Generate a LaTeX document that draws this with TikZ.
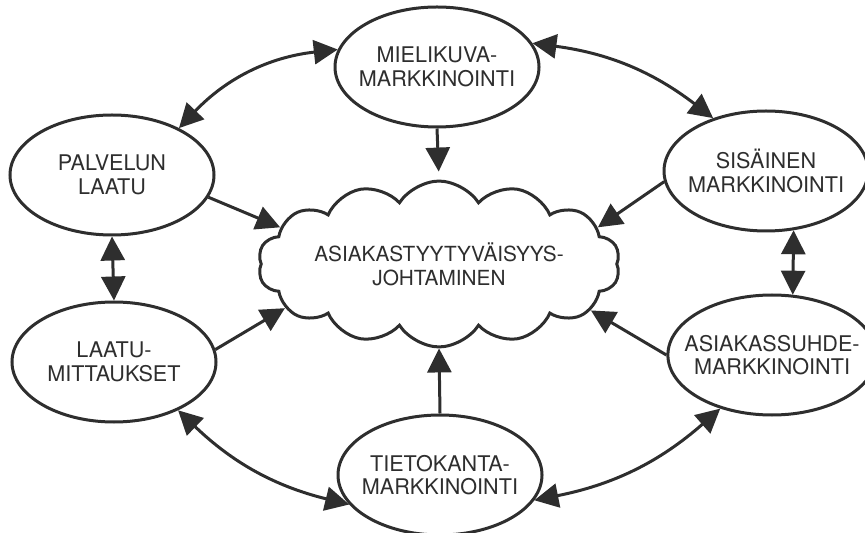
\documentclass[tikz,border=0pt]{standalone}
\usepackage{fontspec}
\setmainfont{TeX Gyre Heros}
\usetikzlibrary{shapes.geometric,shapes.symbols,arrows.meta}
\definecolor{ink}{HTML}{2E2E2E}

\begin{document}
\begin{tikzpicture}[x=0.5pt, y=-0.5pt, ink, line width=1.5pt,
    oval/.style={ellipse, draw, align=center, inner xsep=-7pt, inner ysep=0pt, minimum width=102pt, minimum height=60pt, font=\fontsize{10.8}{11.8}\selectfont},
    puff/.style={cloud, draw, cloud puffs=14, cloud puff arc=115, aspect=2.8, align=center, inner sep=0pt, minimum width=181pt, minimum height=66pt, font=\fontsize{10.4}{12}\selectfont},
    >={Triangle[length=12pt,width=12pt]}, link/.style={->}, both/.style={<->}]
    \useasboundingbox (0,0) rectangle (865,533);
    \node[puff] (cloud) at (439,264) {ASIAKASTYYTYVÄISYYS-\\JOHTAMINEN};
    \node[oval] (mieli) at (437,67) {MIELIKUVA-\\MARKKINOINTI};
    \node[oval] (palvelun) at (112,175) {PALVELUN\\LAATU};
    \node[oval] (laatu) at (114,362) {LAATU-\\MITTAUKSET};
    \node[oval] (sisainen) at (766,171) {SISÄINEN\\MARKKINOINTI};
    \node[oval] (asiakas) at (772,355) {ASIAKASSUHDE-\\MARKKINOINTI};
    \node[oval] (tieto) at (440,475) {TIETOKANTA-\\MARKKINOINTI};
    % kohti pilveä
    \draw[link, shorten >=4pt] (mieli.south) -- (cloud.north);
    \draw[link] (palvelun.-13) -- (cloud.167);
    \draw[link] (sisainen.186) -- (cloud.13);
    \draw[link] (laatu.7) -- (cloud.196);
    \draw[link] (asiakas.west) -- (cloud.-17);
    \draw[link] (tieto.north) -- (cloud.south);
    % kaksisuuntaiset
    \draw[both] (palvelun.35) to[bend left=20] (mieli.170);
    \draw[both] (mieli.14) to[bend left=15] (sisainen.135);
    \draw[both] (palvelun.south) -- (laatu.north);
    \draw[both] (sisainen.-65) -- (asiakas.71);
    \draw[both] (laatu.-37) to[bend right=15] (tieto.198);
    \draw[both] (tieto.-15) to[bend right=15] (asiakas.226);
\end{tikzpicture}
\end{document}
